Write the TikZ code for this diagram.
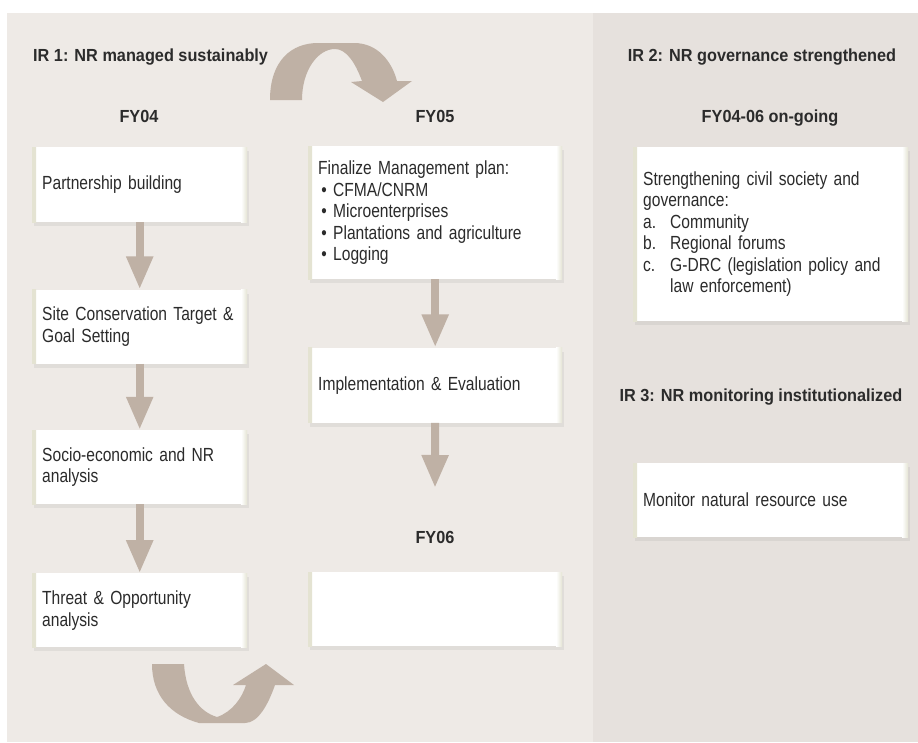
\documentclass[tikz,border=0pt]{standalone}
\usepackage{fontspec}
\setmainfont{Liberation Sans}[FakeStretch=0.82]
\newfontfamily\headfont{Liberation Sans}[FakeStretch=0.93]
\usetikzlibrary{positioning, arrows.meta, shadows}
\definecolor{panel_left}{HTML}{EEEAE6}
\definecolor{panel_right}{HTML}{E6E1DD}
\definecolor{flow_arrow}{HTML}{BFB1A5}
\definecolor{card_edge}{HTML}{E4E3D2}
\definecolor{ink}{HTML}{2B2B2B}

\begin{document}
\begin{tikzpicture}[
    x=1pt, y=-1pt,
    >={Triangle[width=25pt,length=33pt]},
    font=\fontsize{19}{21.5}\selectfont,
    text=ink,
    card/.style={
        fill=white,
        align=left,
        inner xsep=10pt,
        inner ysep=4pt,
        text width=#1,
        drop shadow={shadow xshift=2pt, shadow yshift=-4pt, opacity=0.12},
        path picture={
            \fill[left color=card_edge, right color=white]
                (path picture bounding box.south west) rectangle ([xshift=4pt]path picture bounding box.north west);
            \fill[left color=white, right color=card_edge]
                ([xshift=-6pt]path picture bounding box.south east) rectangle (path picture bounding box.north east);
        }
    },
    narrowcard/.style={card=195pt},
    widecard/.style={card=234pt},
    rightcard/.style={card=255pt},
    heading/.style={
        inner sep=0pt,
        font=\headfont\fontsize{17.5}{20}\selectfont\bfseries
    },
    flow/.style={draw=flow_arrow, line width=8pt, ->}
]

% panels
\useasboundingbox (0,0) rectangle (918,742);
\fill[white] (0,0) rectangle (918,742);
\fill[panel_left] (7,13) rectangle (593,742);
\fill[panel_right] (593,13) rectangle (918,742);

% headings
\node[heading, anchor=base west] (ir1) at (33,61) {IR 1: NR managed sustainably};
\node[heading, anchor=base] (fy04) at (139,122) {FY04};
\node[heading, anchor=base] (fy05) at (435,122) {FY05};
\node[heading, anchor=base] (fy06) at (435,543) {FY06};
\node[heading, anchor=base] (ir2) at (762,61) {IR 2: NR governance strengthened};
\node[heading, anchor=base] (ongoing) at (770,122) {FY04-06 on-going};
\node[heading, anchor=base] (ir3) at (761,401) {IR 3: NR monitoring institutionalized};

% FY04 column
\node[narrowcard, minimum height=75pt, anchor=north west] (partner) at (32,147) {Partnership building};
\node[narrowcard, minimum height=74pt, below=67pt of partner] (target) {Site Conservation Target \&\\Goal Setting};
\node[narrowcard, minimum height=74pt, below=66pt of target] (socio) {Socio-economic and NR\\analysis};
\node[narrowcard, minimum height=74pt, below=69pt of socio] (threat) {Threat \& Opportunity\\analysis};

% FY05 / FY06 column
\node[widecard, minimum height=133pt, anchor=north west] (plan) at (308,146) {Finalize Management plan:\\
    \makebox[15pt][l]{\,\textbullet}CFMA/CNRM\\
    \makebox[15pt][l]{\,\textbullet}Microenterprises\\
    \makebox[15pt][l]{\,\textbullet}Plantations and agriculture\\
    \makebox[15pt][l]{\,\textbullet}Logging};
\node[widecard, minimum height=75pt, below=68pt of plan] (implement) {Implementation \& Evaluation};
\node[widecard, minimum height=74pt, anchor=north west] (fysix) at (308,572) {};
\coordinate (implend) at (435,488);

% IR 2 / IR 3 column
\node[rightcard, minimum height=174pt, anchor=north west] (civil) at (633,147) {Strengthening civil society and\\governance:\\
    \makebox[27pt][l]{a.}Community\\
    \makebox[27pt][l]{b.}Regional forums\\
    \makebox[27pt][l]{c.}G-DRC (legislation policy and\\
    \hspace*{27pt}law enforcement)};
\node[rightcard, minimum height=74pt, anchor=north west] (monitor) at (633,463) {Monitor natural resource use};

% straight arrows
\draw[flow] (partner) -- (target);
\draw[flow] (target) -- (socio);
\draw[flow] (socio) -- (threat);
\draw[flow] (plan) -- (implement);
\draw[flow] (implement.south) -- (implend);

% turn arrows between the years
\fill[flow_arrow] (270,100) .. controls (270,60) and (292,43) .. (318,43) -- (354,43)
    .. controls (378,43) and (392,62) .. (397,81) -- (412,81) -- (383,102) -- (351,82) -- (362,81)
    .. controls (355,62) and (346,49) .. (335,49) .. controls (318,49) and (302,70) .. (302,100) -- cycle;
\fill[flow_arrow] (152,664) -- (184,664) .. controls (186,695) and (200,712) .. (217,717)
    .. controls (232,712) and (242,698) .. (246,685) -- (233,685) -- (266,664) -- (294,685) -- (275,685)
    .. controls (268,705) and (258,723) .. (245,723) -- (199,723)
    .. controls (170,715) and (152,695) .. (152,664) -- cycle;

\end{tikzpicture}
\end{document}
